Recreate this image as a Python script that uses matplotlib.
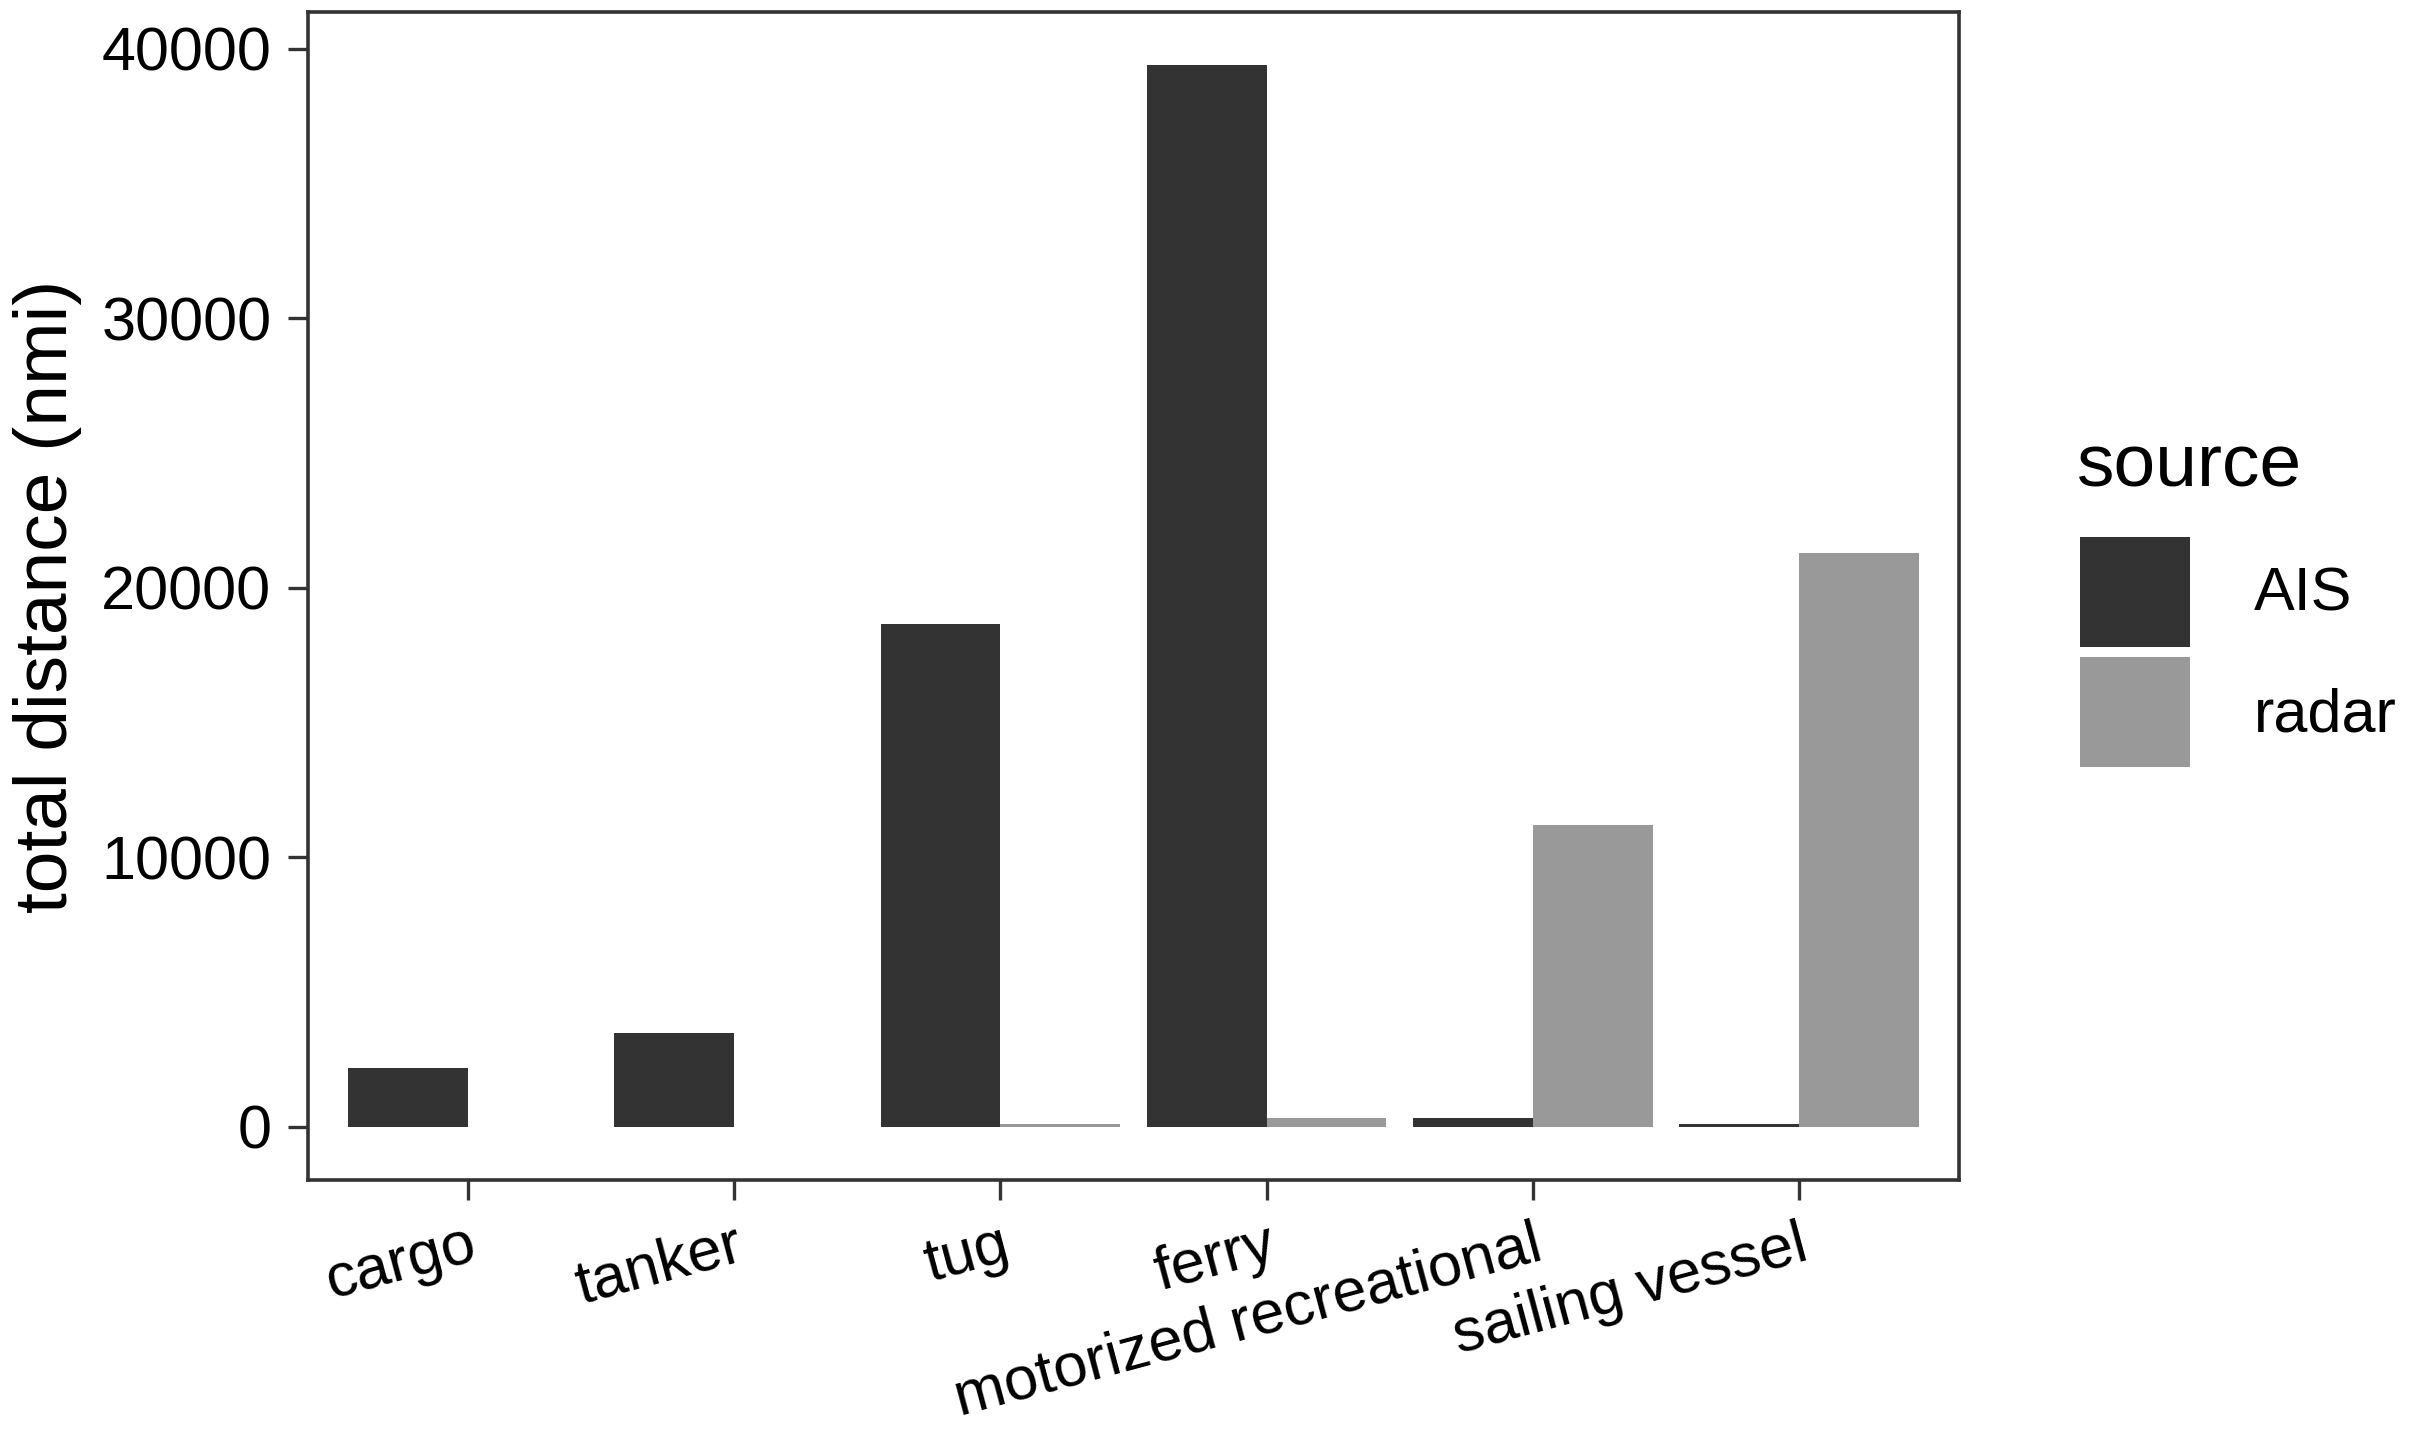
import matplotlib.pyplot as plt
import numpy as np

plt.rcParams['font.family'] = ['Liberation Sans', 'DejaVu Sans']

# vessel categories and total distance per source (nmi)
categories = ["cargo", "tanker", "tug", "ferry", "motorized recreational", "sailing vessel"]
ais = [2200, 3500, 18650, 39400, 320, 100]
radar = [0, 0, 100, 330, 11200, 21300]
sources = ["AIS", "radar"]
fills = ["#333333", "#999999"]

W, H = 2409, 1433
fig = plt.figure(figsize=(W / 100, H / 100), dpi=100)
ax = fig.add_axes([308 / W, 1 - 1180 / H, (1959 - 308) / W, (1180 - 12) / H])

x = np.arange(len(categories))
bw = 0.45
ax.bar(x - bw / 2, ais, width=bw, color=fills[0], linewidth=0, label=sources[0])
ax.bar(x + bw / 2, radar, width=bw, color=fills[1], linewidth=0, label=sources[1])

top = max(max(ais), max(radar))
ax.set_ylim(-0.05 * top, 1.05 * top)
ax.set_xlim(-0.6, len(categories) - 0.4)

ax.set_yticks([0, 10000, 20000, 30000, 40000])
ax.set_xticks(x)
ax.set_xticklabels(categories, rotation=15, ha="right", va="top", rotation_mode="anchor")

ax.tick_params(axis="both", length=14.4, width=2.4, color="#333333",
               labelsize=44, labelcolor="black", pad=12)
for s in ax.spines.values():
    s.set_color("#333333")
    s.set_linewidth(2.6)

ax.set_ylabel("total distance (nmi)", fontsize=54)
ax.yaxis.set_label_coords((82 - 308) / (1959 - 308), 0.5)

# legend: title as separate text so the gap to the keys can be set
fig.text(2077 / W, 1 - 487 / H, "source", fontsize=54, ha="left", va="baseline")
leg = ax.legend(loc="upper left", frameon=False,
                bbox_to_anchor=(2080 / W, 1 - 537 / H), bbox_transform=fig.transFigure,
                fontsize=44, borderpad=0, borderaxespad=0,
                handlelength=1.8, handleheight=2.39, labelspacing=0.17,
                handletextpad=1.05)

fig.savefig("out.png", dpi=100)
